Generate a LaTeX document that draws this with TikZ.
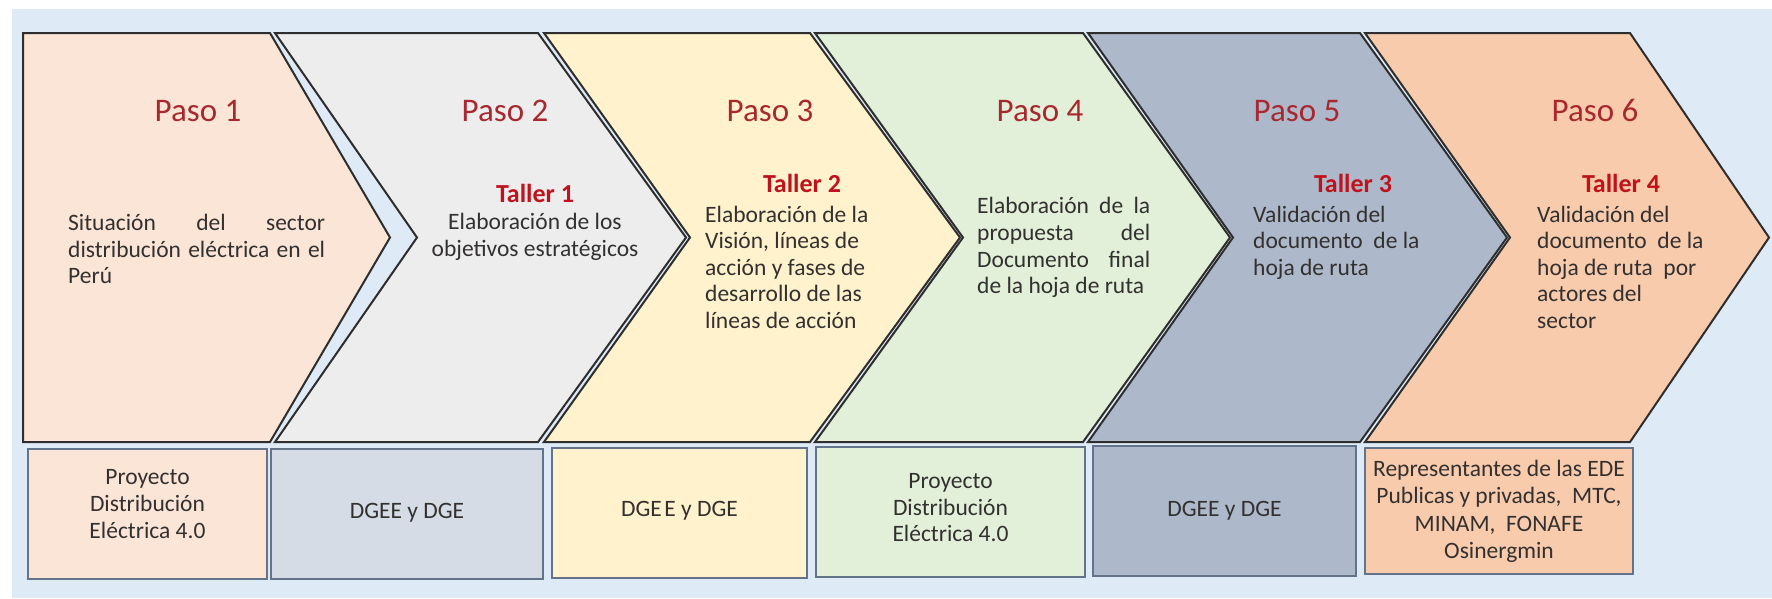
\documentclass[tikz,border=0pt]{standalone}
\usepackage{fontspec}
\setmainfont{Carlito}
\definecolor{bgblue}{HTML}{DEEAF6}
\definecolor{cA}{HTML}{FBE5D6}
\definecolor{cB}{HTML}{EDEDED}
\definecolor{cC}{HTML}{FFF2CC}
\definecolor{cD}{HTML}{E2F0D9}
\definecolor{cE}{HTML}{ADB9CA}
\definecolor{cF}{HTML}{F8CBAD}
\definecolor{bB}{HTML}{D6DCE5}
\definecolor{pasored}{HTML}{A8282F}
\definecolor{tallred}{HTML}{C0121C}
\definecolor{bodygray}{HTML}{333030}
\definecolor{chevline}{HTML}{2E2E2E}
\definecolor{boxline}{HTML}{63738A}
\begin{document}
\begin{tikzpicture}[x=1pt,y=-1pt,
  chev/.style={draw=chevline, line width=2pt, line join=miter},
  infobox/.style={draw=boxline, line width=1.8pt},
  paso/.style={font=\fontsize{33}{40}\selectfont, text=pasored, anchor=base, inner sep=0pt},
  taller/.style={font=\fontsize{26}{30}\selectfont\bfseries, text=tallred, anchor=base, inner sep=0pt},
  bodyl/.style={font=\fontsize{23.5}{27}\selectfont, text=bodygray, anchor=base west, inner sep=0pt},
  bodyc/.style={font=\fontsize{23.5}{27}\selectfont, text=bodygray, anchor=base, inner sep=0pt}]
\useasboundingbox (0,0) rectangle (1772,598);
\fill[white] (0,0) rectangle (1772,598);
\fill[bgblue] (12,9) rectangle (1772,598);

% chevrons
\draw[chev, fill=cA] (23,33) -- (270,33) -- (390,237.5) -- (270,442) -- (23,442) -- cycle;
\draw[chev, fill=cB] (275,33) -- (538,33) -- (686,237.5) -- (538,442) -- (275,442) -- (417,237.5) -- cycle;
\draw[chev, fill=cC] (544,33) -- (810,33) -- (960,237.5) -- (810,442) -- (544,442) -- (690,237.5) -- cycle;
\draw[chev, fill=cD] (815,33) -- (1083,33) -- (1230,237.5) -- (1083,442) -- (815,442) -- (963,237.5) -- cycle;
\draw[chev, fill=cE] (1088,33) -- (1360,33) -- (1507,237.5) -- (1360,442) -- (1088,442) -- (1233,237.5) -- cycle;
\draw[chev, fill=cF] (1365,33) -- (1630,33) -- (1769,237.5) -- (1630,442) -- (1365,442) -- (1510,237.5) -- cycle;

% bottom boxes
\draw[infobox, fill=cA] (28,449) rectangle (267,579);
\draw[infobox, fill=bB] (271,449) rectangle (543,579);
\draw[infobox, fill=cC] (552,448) rectangle (807,578);
\draw[infobox, fill=cD] (816,447) rectangle (1085,577);
\draw[infobox, fill=cE] (1093,446) rectangle (1356,576);
\draw[infobox, fill=cF] (1365,448) rectangle (1633,574);

% headings
\node[paso] (p1) at (198,121) {Paso 1};
\node[paso] (p2) at (505,121) {Paso 2};
\node[paso] (p3) at (770,121) {Paso 3};
\node[paso] (p4) at (1040,121) {Paso 4};
\node[paso] (p5) at (1297,121) {Paso 5};
\node[paso] (p6) at (1595,121) {Paso 6};

% step 1
\node[bodyl] (s1a) at (68,230) {\makebox[257pt][s]{Situación del sector}};
\node[bodyl] (s1b) at (68,257) {\makebox[257pt][s]{distribución eléctrica en el}};
\node[bodyl] (s1c) at (68,283) {Perú};

% step 2
\node[taller] (t1) at (535,202) {Taller 1};
\node[bodyc] (s2a) at (535,229) {Elaboración de los};
\node[bodyc] (s2b) at (535,256) {objetivos estratégicos};

% step 3
\node[taller] (t2) at (802,192) {Taller 2};
\node[bodyl] (s3a) at (705,222) {Elaboración de la};
\node[bodyl] (s3b) at (705,248.5) {Visión, líneas de};
\node[bodyl] (s3c) at (705,275) {acción y fases de};
\node[bodyl] (s3d) at (705,301.5) {desarrollo de las};
\node[bodyl] (s3e) at (705,328) {líneas de acción};

% step 4
\node[bodyl] (s4a) at (977,213) {\makebox[173pt][s]{Elaboración de la}};
\node[bodyl] (s4b) at (977,240) {\makebox[173pt][s]{propuesta del}};
\node[bodyl] (s4c) at (977,267) {\makebox[173pt][s]{Documento final}};
\node[bodyl] (s4d) at (977,293) {de la hoja de ruta};

% step 5
\node[taller] (t3) at (1353,192) {Taller 3};
\node[bodyl] (s5a) at (1253,222) {Validación del};
\node[bodyl] (s5b) at (1253,248.5) {documento\ \ de la};
\node[bodyl] (s5c) at (1253,275) {hoja de ruta};

% step 6
\node[taller] (t4) at (1621,192) {Taller 4};
\node[bodyl] (s6a) at (1537,222) {Validación del};
\node[bodyl] (s6b) at (1537,248.5) {documento\ \ de la};
\node[bodyl] (s6c) at (1537,275) {hoja de ruta\ \ por};
\node[bodyl] (s6d) at (1537,301.5) {actores del};
\node[bodyl] (s6e) at (1537,328) {sector};

% box texts
\node[bodyc] (b1a) at (147.5,484) {Proyecto};
\node[bodyc] (b1b) at (147.5,511) {Distribución};
\node[bodyc] (b1c) at (147.5,538) {Eléctrica 4.0};
\node[bodyc] (b2) at (407,518) {DGEE y DGE};
\node[bodyc] (b3) at (679.5,516) {DGE\kern2.5pt E y DGE};
\node[bodyc] (b4a) at (950.5,488) {Proyecto};
\node[bodyc] (b4b) at (950.5,515) {Distribución};
\node[bodyc] (b4c) at (950.5,541) {Eléctrica 4.0};
\node[bodyc] (b5) at (1224.5,516) {DGEE y DGE};
\node[bodyc] (b6a) at (1499,476) {Representantes de las EDE};
\node[bodyc] (b6b) at (1499,503.5) {Publicas y privadas,\ \ MTC,};
\node[bodyc] (b6c) at (1499,531) {MINAM,\ \ FONAFE};
\node[bodyc] (b6d) at (1499,558) {Osinergmin};
\end{tikzpicture}
\end{document}
